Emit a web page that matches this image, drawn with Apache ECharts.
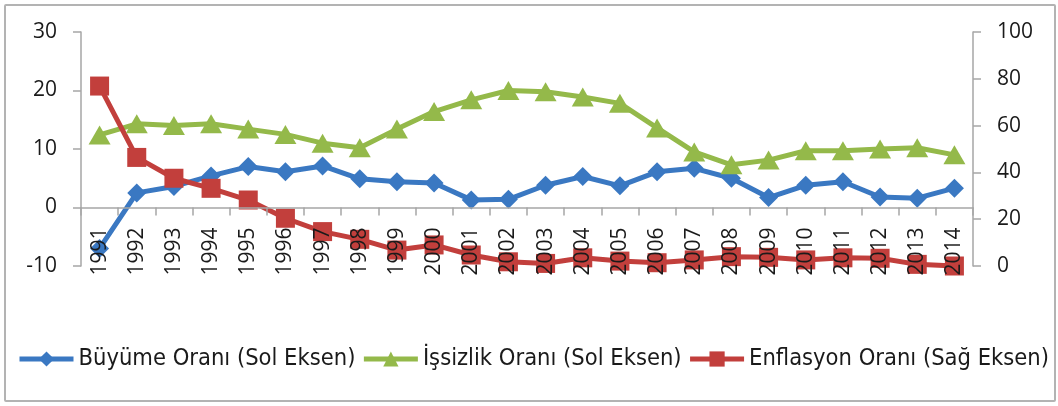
<!DOCTYPE html>
<html>
<head>
<meta charset="utf-8">
<script src="https://cdn.jsdelivr.net/npm/echarts@6/dist/echarts.min.js"></script>
<style>
html,body{margin:0;padding:0;background:#fff;}
#frame{position:absolute;left:4px;top:4px;width:1048px;height:394px;border:2px solid #b3b3b3;border-radius:2px;}
#chart{position:absolute;left:0;top:0;width:1058px;height:406px;}
</style>
</head>
<body>
<div id="frame"></div>
<div id="chart"></div>
<script>
const years = ['1991','1992','1993','1994','1995','1996','1997','1998','1999','2000','2001','2002','2003','2004','2005','2006','2007','2008','2009','2010','2011','2012','2013','2014'];
const growth = [-7.0,2.5,3.6,5.4,7.0,6.1,7.1,4.9,4.4,4.2,1.3,1.4,3.8,5.3,3.7,6.1,6.7,5.0,1.7,3.8,4.4,1.8,1.6,3.3];
const unemployment = [12.4,14.3,14.0,14.3,13.4,12.5,11.0,10.2,13.4,16.4,18.4,20.0,19.8,18.9,17.8,13.6,9.5,7.3,8.1,9.7,9.7,10.0,10.2,9.0];
const inflation = [76.9,46.4,37.5,33.2,28.2,20.4,14.7,11.4,6.8,9.0,4.7,1.8,1.1,3.5,2.1,1.4,2.6,4.0,3.7,2.6,3.5,3.3,0.7,0.0];
const leftTicks = {min:-10,max:30,interval:10};
const rightTicks = {min:0,max:100,interval:20};
const names = ['Büyüme Oranı (Sol Eksen)','İşsizlik Oranı (Sol Eksen)','Enflasyon Oranı (Sağ Eksen)'];

const FONT = "'Liberation Sans Narrow','DejaVu Sans Condensed','Open Sans',sans-serif";
const TICKFONT = "'Open Sans',sans-serif";
const axisGray = '#a6a6a6';
const W = 1058, H = 406;
const grid = {left:81,right:85,top:32,bottom:140};
const plotH = H - grid.top - grid.bottom;
// place the category axis on the left axis' zero line (labels travel with it)
const zeroOffset = -plotH * (0 - leftTicks.min) / (leftTicks.max - leftTicks.min);

const chart = echarts.init(document.getElementById('chart'));
chart.setOption({
  animation:false,
  backgroundColor:'transparent',
  grid:Object.assign({containLabel:false}, grid),
  legend:{
    data:names, top:347, left:17, padding:0, itemWidth:54, itemHeight:19, itemGap:6,
    lineStyle:{width:5},
    textStyle:{fontFamily:FONT,fontSize:23.5,color:'#1a1a1a',padding:[0,0,0,0]}
  },
  xAxis:{
    type:'category', data:years, boundaryGap:true, z:10, position:'bottom', offset:zeroOffset,
    axisLine:{onZero:false,lineStyle:{color:axisGray,width:1.5}},
    axisTick:{show:true,length:8,lineStyle:{color:axisGray,width:1.5}},
    axisLabel:{rotate:90,margin:20,fontFamily:TICKFONT,fontSize:21,color:'#1a1a1a',interval:0}
  },
  yAxis:[
    {type:'value',min:leftTicks.min,max:leftTicks.max,interval:leftTicks.interval,position:'left',
     axisLine:{show:true,lineStyle:{color:axisGray,width:1.5}},
     axisTick:{show:true,length:8,lineStyle:{color:axisGray,width:1.5}},
     splitLine:{show:false},
     axisLabel:{margin:24,fontFamily:TICKFONT,fontSize:21,color:'#1a1a1a'}},
    {type:'value',min:rightTicks.min,max:rightTicks.max,interval:rightTicks.interval,position:'right',
     axisLine:{show:true,lineStyle:{color:axisGray,width:1.5}},
     axisTick:{show:true,length:8,lineStyle:{color:axisGray,width:1.5}},
     splitLine:{show:false},
     axisLabel:{margin:24,fontFamily:TICKFONT,fontSize:21,color:'#1a1a1a'}}
  ],
  series:[
    {name:names[0],type:'line',data:growth,yAxisIndex:0,symbol:'diamond',symbolSize:19,
     itemStyle:{color:'#3a78c2'},lineStyle:{color:'#3a78c2',width:5}},
    {name:names[1],type:'line',data:unemployment,yAxisIndex:0,symbol:'triangle',symbolSize:[22,19],
     itemStyle:{color:'#94b94a'},lineStyle:{color:'#94b94a',width:5}},
    {name:names[2],type:'line',data:inflation,yAxisIndex:1,symbol:'rect',symbolSize:19,
     itemStyle:{color:'#c23f3c'},lineStyle:{color:'#c23f3c',width:5}}
  ]
});
</script>
</body>
</html>
